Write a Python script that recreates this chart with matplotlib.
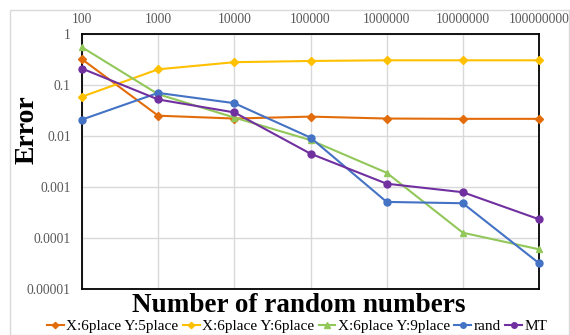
import matplotlib.pyplot as plt
from matplotlib.patches import Rectangle

plt.rcParams['font.family'] = ['Liberation Serif', 'DejaVu Serif']

# number of random numbers (category axis)
counts = ['100', '1000', '10000', '100000', '1000000', '10000000', '100000000']

# error values
err_x6_y5 = [0.32, 0.025, 0.022, 0.024, 0.022, 0.0217, 0.0217]
err_x6_y6 = [0.059, 0.203, 0.28, 0.296, 0.305, 0.305, 0.305]
err_x6_y9 = [0.55, 0.066, 0.023, 0.0083, 0.0019, 0.000127, 0.00006]
err_rand = [0.021, 0.070, 0.044, 0.0093, 0.00051, 0.00048, 0.000032]
err_mt = [0.21, 0.052, 0.029, 0.0045, 0.00116, 0.00079, 0.000233]

yticks = [1, 0.1, 0.01, 0.001, 0.0001, 0.00001]
ytick_labels = ['1', '0.1', '0.01', '0.001', '0.0001', '0.00001']

series = [
    ('X:6place Y:5place', err_x6_y5, '#E36C0A', 'D', 4),
    ('X:6place Y:6place', err_x6_y6, '#FFC000', 'D', 4),
    ('X:6place Y:9place', err_x6_y9, '#92C75A', '^', 5),
    ('rand', err_rand, '#4472C4', 'o', 5),
    ('MT', err_mt, '#7030A0', 'o', 5),
]

fig = plt.figure(figsize=(5.7, 3.35), dpi=100)
fig.patches.append(Rectangle((10 / 570, 0), 1 - 11 / 570, 1 - 10 / 335,
                             transform=fig.transFigure, fill=False,
                             edgecolor='#d9d9d9', linewidth=1))
ax = fig.add_axes([82 / 570, 1 - 289 / 335, 457 / 570, 255 / 335])

x = list(range(len(counts)))
for name, vals, color, marker, ms in series:
    ax.plot(x, vals, color=color, marker=marker, markersize=ms,
            linewidth=1.5, label=name, clip_on=False, zorder=3)

ax.set_yscale('log')
ax.set_ylim(0.00001, 1)
ax.set_xlim(0, len(counts) - 1)
ax.set_yticks(yticks)
ax.set_yticklabels(ytick_labels)
ax.minorticks_off()
ax.set_xticks(x)
ax.set_xticklabels(counts)
ax.xaxis.tick_top()
ax.tick_params(axis='both', length=0, labelsize=9.8, labelcolor='#595959')
ax.tick_params(axis='x', pad=6)
ax.tick_params(axis='y', pad=8)
ax.grid(True, color='#d9d9d9', linewidth=1)
ax.set_axisbelow(True)
for sp in ax.spines.values():
    sp.set_linewidth(1.3)
    sp.set_color('black')

fig.text(27 / 570, 1 - 130 / 335, 'Error', rotation=90,
         ha='center', va='center', fontsize=20, fontweight='bold')
fig.text(299 / 570, 1 - 305 / 335, 'Number of random numbers',
         ha='center', va='center', fontsize=19.5, fontweight='bold')

fig.legend(loc='center', bbox_to_anchor=(297 / 570, 1 - 326 / 335),
           ncol=5, frameon=False, fontsize=11, handlelength=1.1,
           handletextpad=0.15, columnspacing=0.3, markerscale=0.8,
           borderaxespad=0, borderpad=0)

fig.savefig('out.png', dpi=100)
